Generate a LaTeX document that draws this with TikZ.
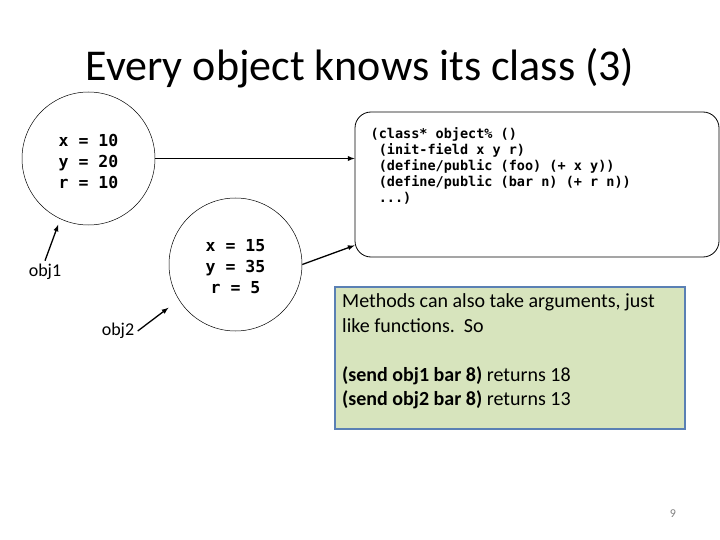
\documentclass[tikz,border=0pt]{standalone}
\usepackage{fontspec}
\setmainfont{Carlito}
\setmonofont{DejaVu Sans Mono}
\usetikzlibrary{arrows,calc,positioning}
\definecolor{notefill}{HTML}{D7E4BD}
\definecolor{noteline}{HTML}{5A80B4}

\begin{document}
\begin{tikzpicture}[x=1pt,y=-1pt,
    objcircle/.style={circle,draw,line width=0.5pt,minimum size=133pt,inner sep=0pt},
    objvals/.style={align=center,font=\fontsize{16.5}{21}\selectfont\ttfamily\bfseries},
    objname/.style={font=\fontsize{18}{21}\selectfont},
    pointer/.style={-latex,line width=1.3pt}]
      \useasboundingbox (0,0) rectangle (720,540);

      \node[font=\fontsize{44}{50}\selectfont] (title) at (360,68) {Every object knows its class (3)};

      \node[objcircle] (objA) at (88.5,158.5) {};
      \node[objvals] (valsA) at ([yshift=-3pt]objA.center) {x = 10\\y = 20\\r = 10};
      \node[objcircle] (objB) at (235.5,264.5) {};
      \node[objvals] (valsB) at ([yshift=-2.5pt]objB.center) {x = 15\\y = 35\\r = 5};

      \node[objname] (nameA) at (45,272) {obj1};
      \node[objname] (nameB) at (118,331) {obj2};

      \node[draw,line width=0.8pt,rounded corners=16pt,minimum width=364pt,minimum height=145pt] (cls) at (537,184.5) {};
      \node[anchor=north west,inner sep=0pt,align=left,font=\fontsize{13.5}{15.9}\selectfont\ttfamily\bfseries] (code) at (370.5,127.5)
        {(class* object\% ()\\
         \ (init-field x y r)\\
         \ (define/public (foo) (+ x y))\\
         \ (define/public (bar n) (+ r n))\\
         \ ...)};

      \node[draw=noteline,fill=notefill,line width=2.5pt,minimum width=350pt,minimum height=142pt] (note) at (510,358) {};
      \node[anchor=north west,inner sep=0pt,align=left,font=\fontsize{20}{24.5}\selectfont] (notetext) at (342,293.5)
        {Methods can also take arguments, just\\
         like functions.\ \ So\\[24.5pt]
         \textbf{(send obj1 bar 8)} returns 18\\
         \textbf{(send obj2 bar 8)} returns 13};

      \node[text=gray,font=\fontsize{12}{14}\selectfont] (pagenum) at (673,514) {9};

      \draw[pointer] (objA.east) -- (objA.east -| cls.west);
      \draw[pointer] (objB.east) -- ([yshift=12pt]cls.south west);
      \draw[pointer,shorten >=6pt] (nameA.north) -- (objA.245);
      \draw[pointer,shorten >=13pt] (nameB.east) -- (objB.212);
    \end{tikzpicture}
\end{document}
